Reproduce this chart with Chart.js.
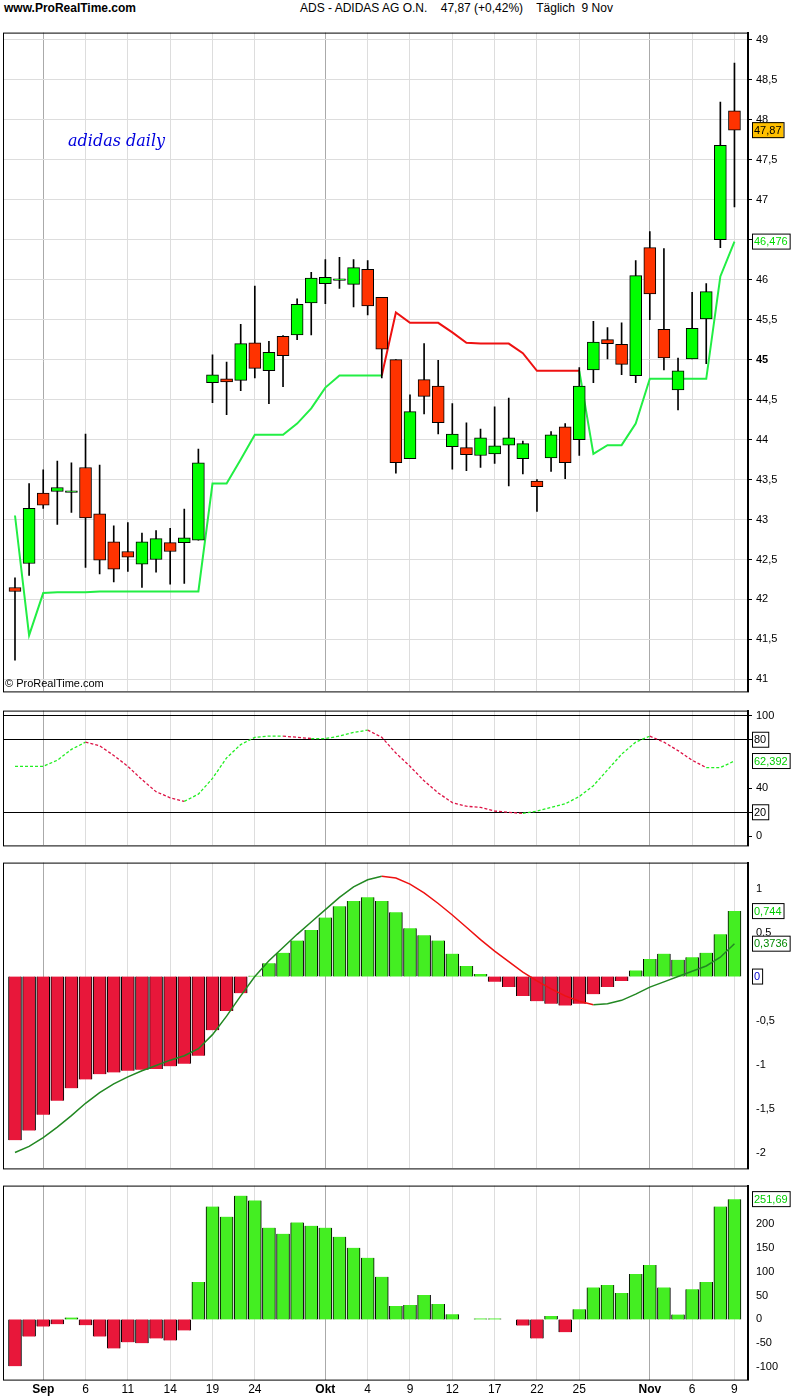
<!DOCTYPE html>
<html><head><meta charset="utf-8">
<script src="https://cdn.jsdelivr.net/npm/chart.js@4"></script>
<style>
body{margin:0;background:#fff;width:800px;height:1400px;position:relative;font-family:"Liberation Sans",Arial,sans-serif;overflow:hidden}
.p{position:absolute;left:0;width:800px}
.t{position:absolute;font-size:12px;white-space:pre}
</style></head><body>
<div class="t" style="left:4px;top:1px;font-weight:bold">www.ProRealTime.com</div>
<div class="t" style="left:300px;top:1px">ADS - ADIDAS AG O.N.    47,87 (+0,42%)    Täglich  9 Nov</div>
<div class="p" style="top:22px;height:680px"><canvas id="c1"></canvas></div>
<div class="p" style="top:700px;height:156px"><canvas id="c2"></canvas></div>
<div class="p" style="top:852px;height:327px"><canvas id="c3"></canvas></div>
<div class="p" style="top:1175px;height:225px"><canvas id="c4"></canvas></div>
<div class="t" style="left:68px;top:131px;color:#0000dd;font-style:italic;font-size:16px;font-family:'DejaVu Serif',serif">adidas daily</div>
<div class="t" style="left:5px;top:677px;font-size:11px">© ProRealTime.com</div>
<script>
const tickSlots=[2,5,8,11,14,17,22,25,28,31,34,37,40,45,48,51];
const tickLabels=["Sep","6","11","14","19","24","Okt","4","9","12","17","22","25","Nov","6","9"];
const monthSlots=[2,22,45];
const open =[42.15,42.45,43.33,43.35,43.35,43.65,43.07,42.72,42.60,42.44,42.50,42.71,42.71,42.74,44.71,44.76,44.74,45.21,44.86,45.29,45.31,45.71,45.95,45.99,45.94,46.13,45.78,45.00,43.76,44.75,44.67,43.91,43.90,43.80,43.82,43.93,43.76,43.48,43.77,44.16,44.00,44.87,45.25,45.19,44.80,46.40,45.38,44.62,45.01,45.51,46.50,48.11];
const close=[42.10,43.14,43.18,43.40,43.35,43.02,42.49,42.38,42.53,42.72,42.76,42.60,42.77,43.71,44.81,44.72,45.20,44.89,45.09,45.05,45.69,46.02,46.03,46.00,46.15,45.67,45.13,43.71,44.35,44.54,44.21,44.07,43.81,44.02,43.92,44.02,43.95,43.41,44.06,43.71,44.67,45.22,45.20,44.94,46.05,45.82,45.02,44.86,45.39,45.85,47.68,47.87];
const high =[42.27,43.45,43.62,43.73,43.71,44.07,43.68,42.92,42.96,42.83,42.86,42.89,43.13,43.88,45.06,44.97,45.44,45.92,45.23,45.30,45.76,46.09,46.25,46.28,46.25,46.24,45.78,45.00,44.56,45.20,44.99,44.45,44.21,44.13,44.41,44.52,43.98,43.50,44.10,44.20,44.90,45.48,45.40,45.46,46.24,46.60,46.39,45.02,45.84,45.95,48.22,48.71];
const low  =[41.24,42.30,43.14,42.94,43.09,42.40,42.32,42.22,42.35,42.15,42.34,42.19,42.20,42.74,44.46,44.31,44.61,44.77,44.45,44.66,45.25,45.31,45.70,45.89,45.66,45.56,44.77,43.58,43.76,44.32,44.07,43.63,43.61,43.65,43.70,43.42,43.57,43.10,43.60,43.51,43.80,44.71,45.01,44.81,44.71,45.50,44.87,44.37,45.01,44.95,46.40,46.91];
const stop =[43.05,41.55,42.08,42.09,42.09,42.09,42.10,42.10,42.10,42.10,42.10,42.10,42.10,42.10,43.45,43.45,43.75,44.06,44.06,44.06,44.20,44.39,44.65,44.80,44.80,44.80,44.80,45.59,45.46,45.46,45.46,45.34,45.21,45.20,45.20,45.20,45.08,44.86,44.86,44.86,44.86,43.82,43.93,43.93,44.20,44.76,44.76,44.76,44.76,44.76,46.04,46.476];
const stoch=[58,58,58,63,72,78,75,67,58,47,37,32,29,35,48,65,76,82,83,83,82,81,81,83,86,88,82,69,58,46,36,28,25,24,21,20,19,21,24,27,33,42,55,68,78,83,78,71,63,57,57,62.392];
const macdHist=[-1.86,-1.75,-1.57,-1.41,-1.27,-1.17,-1.11,-1.09,-1.07,-1.06,-1.05,-1.02,-0.99,-0.90,-0.61,-0.39,-0.19,0.01,0.15,0.27,0.41,0.53,0.67,0.80,0.86,0.90,0.86,0.73,0.55,0.47,0.41,0.26,0.12,0.03,-0.06,-0.12,-0.22,-0.28,-0.31,-0.33,-0.31,-0.20,-0.12,-0.05,0.07,0.20,0.26,0.19,0.22,0.27,0.48,0.744];
const macdSignal=[-2.0,-1.93,-1.83,-1.71,-1.58,-1.44,-1.32,-1.22,-1.14,-1.07,-1.01,-0.95,-0.90,-0.82,-0.66,-0.45,-0.22,0.0,0.18,0.33,0.48,0.62,0.76,0.90,1.02,1.10,1.14,1.12,1.05,0.95,0.83,0.70,0.56,0.42,0.29,0.17,0.05,-0.05,-0.14,-0.22,-0.28,-0.32,-0.31,-0.27,-0.20,-0.12,-0.06,0.0,0.06,0.12,0.22,0.3736];
const osc=[-98,-36,-15,-10,4,-12,-36,-61,-48,-50,-40,-44,-23,78,236,215,259,249,192,179,203,196,192,173,150,129,89,28,30,51,32,11,0,2,2,0,-13,-40,7,-27,21,67,72,55,95,114,67,10,63,78,236,251.69];

const idx=open.map((_,i)=>i);
const XMIN=-0.85,XMAX=51.96;
const FONT={family:"Liberation Sans",size:11};
function fmt(v){return String(v).replace('.',',');}
function xScale(showLabels){
  return {type:'linear',min:XMIN,max:XMAX,offset:false,
    afterBuildTicks:s=>{s.ticks=tickSlots.map(v=>({value:v}));},
    ticks:{display:showLabels,autoSkip:false,maxRotation:0,color:'#000',
      font:c=>({...FONT,size:12,weight:(c.tick&&monthSlots.includes(c.tick.value))?'bold':'normal'}),
      callback:(v)=>{const k=tickSlots.indexOf(v);return k>=0?tickLabels[k]:'';}},
    grid:{drawTicks:false,offset:false,lineWidth:1,color:c=>monthSlots.includes(c.tick&&c.tick.value)?'#aaaaaa':'#dddddd'},
    border:{display:false}};
}
function yScale(min,max,ticks,opts={}){
  return {type:'linear',position:'right',min,max,
    afterBuildTicks:s=>{s.ticks=ticks.map(v=>({value:v}));},
    afterFit:s=>{s.width=52;},
    ticks:{color:'#000',font:c=>({...FONT,weight:(opts.bold!==undefined&&c.tick&&c.tick.value===opts.bold)?'bold':'normal'}),padding:4,callback:v=>fmt(v)},
    grid:{display:!!opts.grid,drawTicks:true,tickLength:4,tickColor:'#000',
      color:c=>opts.gridColor?opts.gridColor(c.tick&&c.tick.value):'#dddddd',drawOnChartArea:true},
    border:{display:true,color:'#000',width:2}};
}
const framePlugin={id:'frame',afterDraw(ch,a,o){
  const {ctx,chartArea:ca}=ch;ctx.save();ctx.strokeStyle='#000';ctx.lineWidth=1;
  ctx.strokeRect(ca.left+0.5,ca.top+0.5,ca.right-ca.left,ca.bottom-ca.top);
  (o.boxes||[]).forEach(b=>{
    const y=ch.scales.y.getPixelForValue(b.value);
    ctx.font="11px 'Liberation Sans'";const w=ctx.measureText(b.text).width+4;
    ctx.fillStyle=b.bg||'#fff';ctx.fillRect(ca.right+4,y-8,w,16);
    ctx.strokeStyle='#000';ctx.strokeRect(ca.right+4.5,y-7.5,w,15);
    ctx.fillStyle=b.color||'#000';ctx.textBaseline='middle';ctx.fillText(b.text,ca.right+6,y+0.5);
  });
  ctx.restore();}};
Chart.register(framePlugin);
const base={responsive:false,animation:false,maintainAspectRatio:false,layout:{padding:{left:3,right:0,top:0,bottom:0}},
  plugins:{legend:{display:false},tooltip:{enabled:false}}};
function mk(id,h,cfg){const c=document.getElementById(id);c.width=800;c.height=h;c.style.width='800px';c.style.height=h+'px';return new Chart(c,cfg);}

const GREEN='#00ff00',RED='#ff3300';
const priceTicks=[41,41.5,42,42.5,43,43.5,44,44.5,45,45.5,46,46.5,47,47.5,48,48.5,49];
mk('c1',680,{type:'bar',data:{datasets:[
  {type:'line',data:idx.map(i=>({x:i,y:stop[i]})),borderWidth:2,pointRadius:0,borderColor:'#22ee44',
   segment:{borderColor:c=>(c.p0DataIndex>=26&&c.p0DataIndex<=39)?'#ee1111':'#22ee44'},order:3},
  {data:idx.map(i=>({x:i,y:[low[i],high[i]]})),backgroundColor:'#000',barThickness:1,grouped:false,order:2},
  {data:idx.map(i=>({x:i,y:Math.abs(open[i]-close[i])<0.02?[close[i]-0.01,close[i]+0.01]:[open[i],close[i]]})),
   backgroundColor:idx.map(i=>close[i]>=open[i]?GREEN:RED),borderColor:'#000',borderWidth:1,borderSkipped:false,barThickness:12,grouped:false,order:1}
]},options:{...base,plugins:{...base.plugins,frame:{boxes:[{value:47.87,text:'47,87',bg:'#ffc000'},{value:46.476,text:'46,476',color:'#00dd00'}]}},
  scales:{x:xScale(false),y:yScale(40.85,49.09,priceTicks,{grid:true,bold:45})}}});

mk('c2',156,{type:'line',data:{datasets:[
  {data:idx.map(i=>({x:i,y:stoch[i]})),borderWidth:1.3,borderDash:[3,2],pointRadius:0,
   segment:{borderColor:c=>c.p1.parsed.y>=c.p0.parsed.y?'#22ee22':'#dd1144'}}
]},options:{...base,plugins:{...base.plugins,frame:{boxes:[{value:80,text:'80'},{value:20,text:'20'},{value:62.392,text:'62,392',color:'#00cc00'}]}},
  scales:{x:xScale(false),y:yScale(-7.4,104.1,[0,40,100,20,80],{grid:true,gridColor:v=>(v===20||v===80||v===100)?'#000':'rgba(0,0,0,0)'})}}});

mk('c3',327,{type:'bar',data:{datasets:[
  {type:'line',data:idx.map(i=>({x:i,y:macdSignal[i]})),borderWidth:1.5,pointRadius:0,order:1,
   segment:{borderColor:c=>c.p1.parsed.y>=c.p0.parsed.y?'#228822':'#ee1111'}},
  {data:idx.map(i=>({x:i,y:macdHist[i]})),backgroundColor:idx.map(i=>macdHist[i]>=0?'#44ee22':'#e8173a'),
   borderColor:'#000',borderWidth:{left:1,right:1,top:0,bottom:0},barThickness:13,order:2}
]},options:{...base,plugins:{...base.plugins,frame:{boxes:[{value:0.744,text:'0,744',color:'#00cc00'},{value:0.3736,text:'0,3736',color:'#008800'},{value:0,text:'0',color:'#0000cc'}]}},
  scales:{x:xScale(false),y:yScale(-2.18,1.295,[-2,-1.5,-1,-0.5,0.5,1],{grid:false})}}});

mk('c4',225,{type:'bar',data:{datasets:[
  {data:idx.map(i=>({x:i,y:osc[i]})),backgroundColor:idx.map(i=>osc[i]>=0?'#44ee22':'#e8173a'),
   borderColor:'#000',borderWidth:{left:1,right:1,top:0,bottom:0},barThickness:13}
]},options:{...base,plugins:{...base.plugins,frame:{boxes:[{value:251.69,text:'251,69',color:'#00cc00'}]}},
  scales:{x:xScale(true),y:yScale(-126,280,[-100,-50,0,50,100,150,200],{grid:false})}}});
</script></body></html>
